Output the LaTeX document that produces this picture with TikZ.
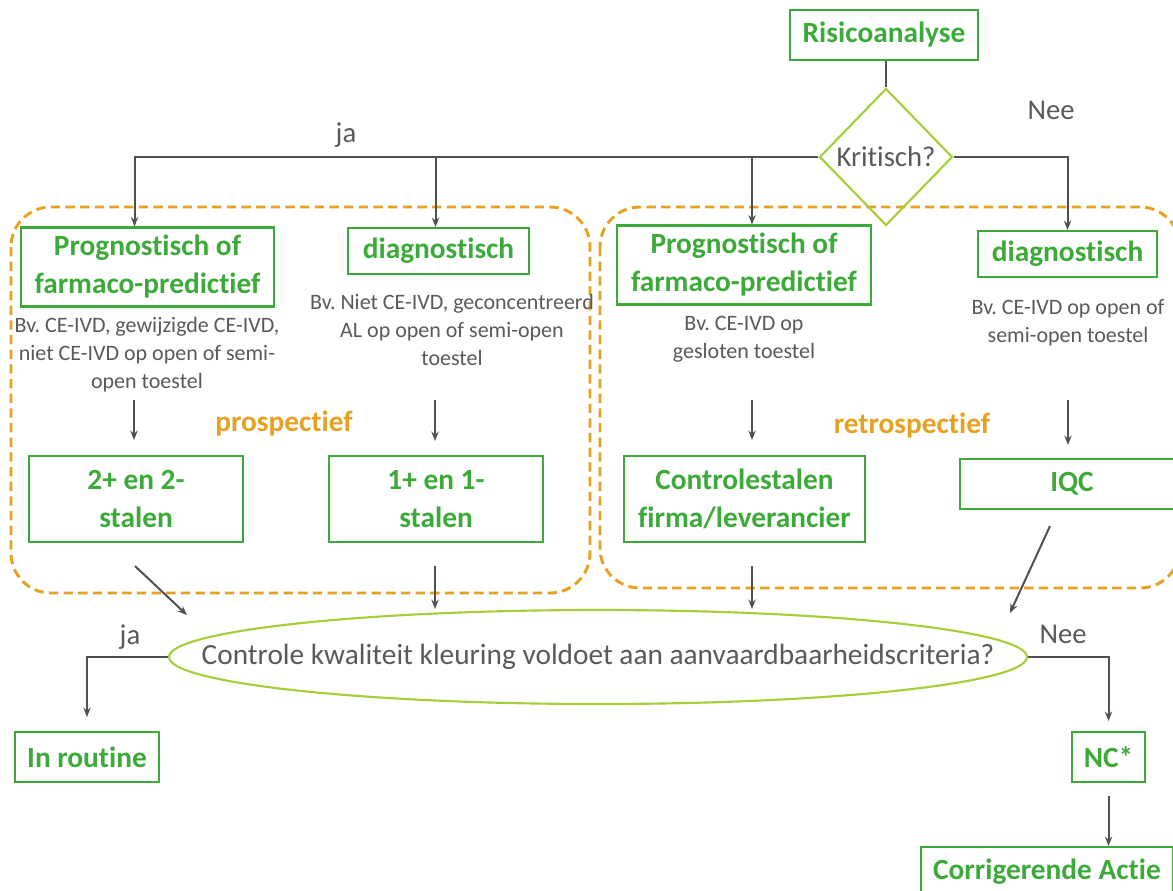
\documentclass[tikz,border=0pt]{standalone}
\usepackage{fontspec}
\setmainfont[Ligatures={NoCommon}]{Carlito}
\usetikzlibrary{arrows.meta,shapes.geometric}
\definecolor{boxgreen}{RGB}{59,170,56}
\definecolor{lime}{RGB}{166,206,57}
\definecolor{orng}{RGB}{230,160,34}
\definecolor{txtgray}{RGB}{89,89,89}
\definecolor{linegray}{RGB}{80,80,80}
\newcommand\pxl[1]{#1*0.75pt}
\frenchspacing
\begin{document}
\begin{tikzpicture}[x=0.75pt,y=-0.75pt,
  gbox/.style={draw=boxgreen, line width=1.6pt, text=boxgreen,
    font=\fontsize{22}{28.5}\selectfont\bfseries, align=center, inner sep=0pt},
  desc/.style={text=txtgray, font=\fontsize{16.5}{21}\selectfont, align=center, inner sep=0pt},
  lbl/.style={text=txtgray, font=\fontsize{21.5}{24}\selectfont, inner sep=0pt},
  grplbl/.style={text=orng, font=\fontsize{22}{24}\selectfont\bfseries, inner sep=0pt},
  ln/.style={draw=linegray, line width=1.5pt},
  arr/.style={ln, -{Stealth[length=7pt,width=5.5pt]}},
  grp/.style={draw=orng, line width=2.2pt, dash pattern=on 7pt off 4pt, rounded corners=30pt}
]
\useasboundingbox (0,0) rectangle (1173,890);
\clip (0,0) rectangle (1173,890);

% groups
\draw[grp] (11,207) rectangle (590,593);
\draw[grp] (600,207) rectangle (1180,588);
\node[grplbl] (prosp) at (284,424) {prospectief};
\node[grplbl] (retro) at (912,426) {retrospectief};

% top
\node[gbox, minimum width=\pxl{188}, minimum height=\pxl{50}] (risk) at (884,35) {Risicoanalyse};
\node[draw=lime, line width=1.6pt, diamond, inner sep=0pt, minimum width=\pxl{133}, minimum height=\pxl{137},
  text=txtgray, font=\fontsize{21.5}{24}\selectfont] (krit) at (886,157) {\makebox[0pt]{Kritisch?}};
\node[lbl] (ja1) at (346,135) {ja};
\node[lbl] (nee1) at (1051,110) {Nee};

% first row
\node[gbox, minimum width=\pxl{253}, minimum height=\pxl{79}] (p1) at (147.5,267) {Prognostisch of\\farmaco-predictief};
\node[gbox, minimum width=\pxl{181}, minimum height=\pxl{46}] (d1) at (438.5,251) {diagnostisch};
\node[gbox, minimum width=\pxl{254}, minimum height=\pxl{79}] (p2) at (744,265) {Prognostisch of\\farmaco-predictief};
\node[gbox, minimum width=\pxl{179}, minimum height=\pxl{46}] (d2) at (1067.5,254) {diagnostisch};

% descriptions
\node[desc] (t1) at (147,355) {Bv. CE-IVD, gewijzigde CE-IVD,\\niet CE-IVD op open of semi-\\open toestel};
\node[desc] (t2) at (452,330) {Bv. Niet CE-IVD, geconcentreerd\\AL op open of semi-open\\toestel};
\node[desc] (t3) at (744,339) {Bv. CE-IVD op\\gesloten toestel};
\node[desc] (t4) at (1068,322.5) {Bv. CE-IVD op open of\\semi-open toestel};

% second row
\node[gbox, minimum width=\pxl{214}, minimum height=\pxl{86}] (b1) at (136,499) {2+ en 2-\\stalen};
\node[gbox, minimum width=\pxl{214}, minimum height=\pxl{86}] (b2) at (436,499) {1+ en 1-\\stalen};
\node[gbox, minimum width=\pxl{241}, minimum height=\pxl{86}] (b3) at (744.5,499) {Controlestalen\\firma/leverancier};
\node[gbox, minimum width=\pxl{224}, minimum height=\pxl{50}] (b4) at (1072,484) {IQC};

% ellipse
\node[draw=lime, line width=1.6pt, ellipse, inner sep=0pt, minimum width=\pxl{858}, minimum height=\pxl{94},
  text=txtgray, font=\fontsize{22}{24}\selectfont] (q) at (598,657)
  {\makebox[0pt]{Controle kwaliteit kleuring voldoet aan aanvaardbaarheidscriteria?}};
\node[lbl] (ja2) at (130,637) {ja};
\node[lbl] (nee2) at (1063,634) {Nee};

% bottom
\node[gbox, minimum width=\pxl{144}, minimum height=\pxl{50}] (rout) at (87,757) {In routine};
\node[gbox, minimum width=\pxl{73}, minimum height=\pxl{50}] (nc) at (1108.5,757) {NC*};
\node[gbox, minimum width=\pxl{252}, minimum height=\pxl{50}] (corr) at (1047,872) {Corrigerende Actie};

% connectors top
\draw[ln] (risk.south -| krit.north) -- (krit.north);
\draw[arr] (krit.west) -| ([xshift=\pxl{-13}]p1.north);
\draw[arr] ([xshift=\pxl{-3}]d1.north |- krit.west) -- ([xshift=\pxl{-3}]d1.north);
\draw[arr] ([xshift=\pxl{8}]p2.north |- krit.west) -- ([xshift=\pxl{8}]p2.north);
\draw[arr] (krit.east) -| (d2.north);

% desc to second row
\coordinate (s1) at (134,400);
\coordinate (s2) at (435,400);
\coordinate (s3) at (752,400);
\coordinate (s4) at (1068,400);
\draw[arr, shorten >=\pxl{15}] (s1) -- (s1 |- b1.north);
\draw[arr, shorten >=\pxl{14}] (s2) -- (s2 |- b2.north);
\draw[arr, shorten >=\pxl{15}] (s3) -- (s3 |- b3.north);
\draw[arr, shorten >=\pxl{13}] (s4) -- (s4 |- b4.north);

% second row to ellipse
\coordinate (e1) at (187,615);
\coordinate (e4) at (1010,613);
\draw[arr] ([xshift=\pxl{-1},yshift=\pxl{-23}]b1.south) -- (e1);
\draw[arr, shorten <=\pxl{23}] ([xshift=\pxl{-1}]b2.south) -- ([xshift=\pxl{-1}]b2.south |- q.north);
\draw[arr, shorten <=\pxl{23}] ([xshift=\pxl{7.5}]b3.south) -- ([xshift=\pxl{7.5}]b3.south |- q.north);
\draw[arr] ([xshift=\pxl{-22},yshift=\pxl{-16}]b4.south) -- (e4);

% ellipse outputs
\draw[arr, shorten >=\pxl{14}] (q.west) -| (rout.north);
\draw[arr, shorten >=\pxl{10}] (q.east) -| (nc.north);
\draw[arr, shorten <=\pxl{13}] (nc.south) -- (nc.south |- corr.north);
\end{tikzpicture}
\end{document}
